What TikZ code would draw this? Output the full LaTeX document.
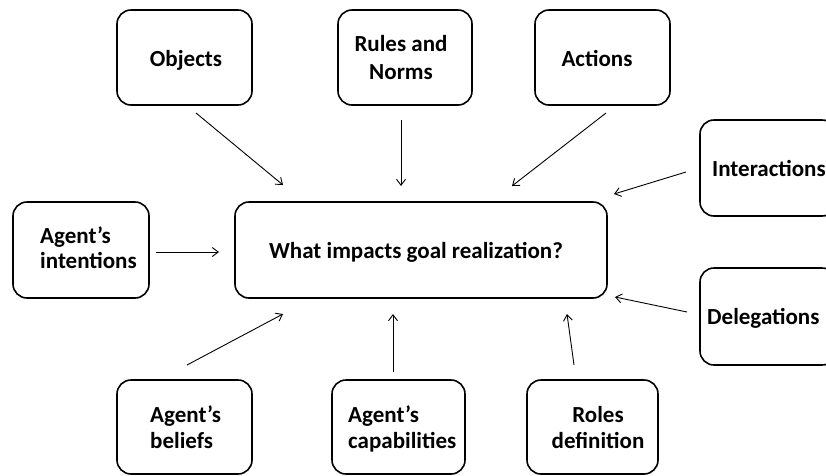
\documentclass[tikz,border=0pt]{standalone}
\usepackage{fontspec}
\setmainfont{Carlito}
\usetikzlibrary{arrows.meta}
\tikzset{
  box/.style={draw, line width=1.6pt, rounded corners=14pt, minimum width=#1, inner sep=0pt},
  lbl/.style={font=\fontsize{23}{26}\selectfont\bfseries, inner sep=0pt, anchor=base},
  lblw/.style={lbl, anchor=base west},
  conn/.style={line width=0.9pt, -{Straight Barb[length=6pt,width=9pt,line width=0.9pt]}}
}
\begin{document}
\begin{tikzpicture}[x=1pt,y=-1pt]
\useasboundingbox (0,0) rectangle (826,475);
% boxes
\node[box=135pt, minimum height=95pt] (obj) at (184.5,57.5) {};
\node[box=134pt, minimum height=95pt] (rul) at (405,57.5) {};
\node[box=135pt, minimum height=95pt] (act) at (602.5,57.5) {};
\node[box=136pt, minimum height=96pt] (int) at (768,168) {};
\node[box=136pt, minimum height=96pt] (itn) at (81,250) {};
\node[box=372pt, minimum height=96pt] (ctr) at (421,250) {};
\node[box=136pt, minimum height=97pt] (del) at (768,316.5) {};
\node[box=135pt, minimum height=94pt] (bel) at (184.5,427) {};
\node[box=133pt, minimum height=94pt] (cap) at (398.5,427) {};
\node[box=131pt, minimum height=94pt] (rol) at (592.5,427) {};
% texts
\node[lbl] (tobj) at (186,66) {Objects};
\node[lbl] (trul1) at (401,51) {Rules and};
\node[lbl] (trul2) at (401,79) {Norms};
\node[lbl] (tact) at (597,66) {Actions};
\node[lblw] (tint) at (712,176) {Interactions};
\node[lblw] (titn1) at (40,243) {Agent's};
\node[lblw] (titn2) at (40,268) {intentions};
\node[lbl] (tctr) at (416,258) {What impacts goal realization?};
\node[lblw] (tdel) at (707,324) {Delegations};
\node[lblw] (tbel1) at (150,422) {Agent's};
\node[lblw] (tbel2) at (150,448) {beliefs};
\node[lblw] (tcap1) at (348,422) {Agent's};
\node[lblw] (tcap2) at (348,448) {capabilities};
\node[lbl] (trol1) at (598,422) {Roles};
\node[lbl] (trol2) at (598,448) {definition};
% connector end points
\coordinate (a1) at (196,113); \coordinate (b1) at (283,185);
\coordinate (a2) at (401,120); \coordinate (b2) at (401,186);
\coordinate (a3) at (606,113); \coordinate (b3) at (512,186);
\coordinate (a4) at (686,172); \coordinate (b4) at (614,194);
\coordinate (a5) at (156,252); \coordinate (b5) at (219,252);
\coordinate (a6) at (687,312); \coordinate (b6) at (615,297);
\coordinate (a7) at (187,365); \coordinate (b7) at (283,314);
\coordinate (a8) at (393,372); \coordinate (b8) at (393,314);
\coordinate (a9) at (574,365); \coordinate (b9) at (567,314);
\foreach \i in {1,...,9} \draw[conn] (a\i) -- (b\i);
\end{tikzpicture}
\end{document}
